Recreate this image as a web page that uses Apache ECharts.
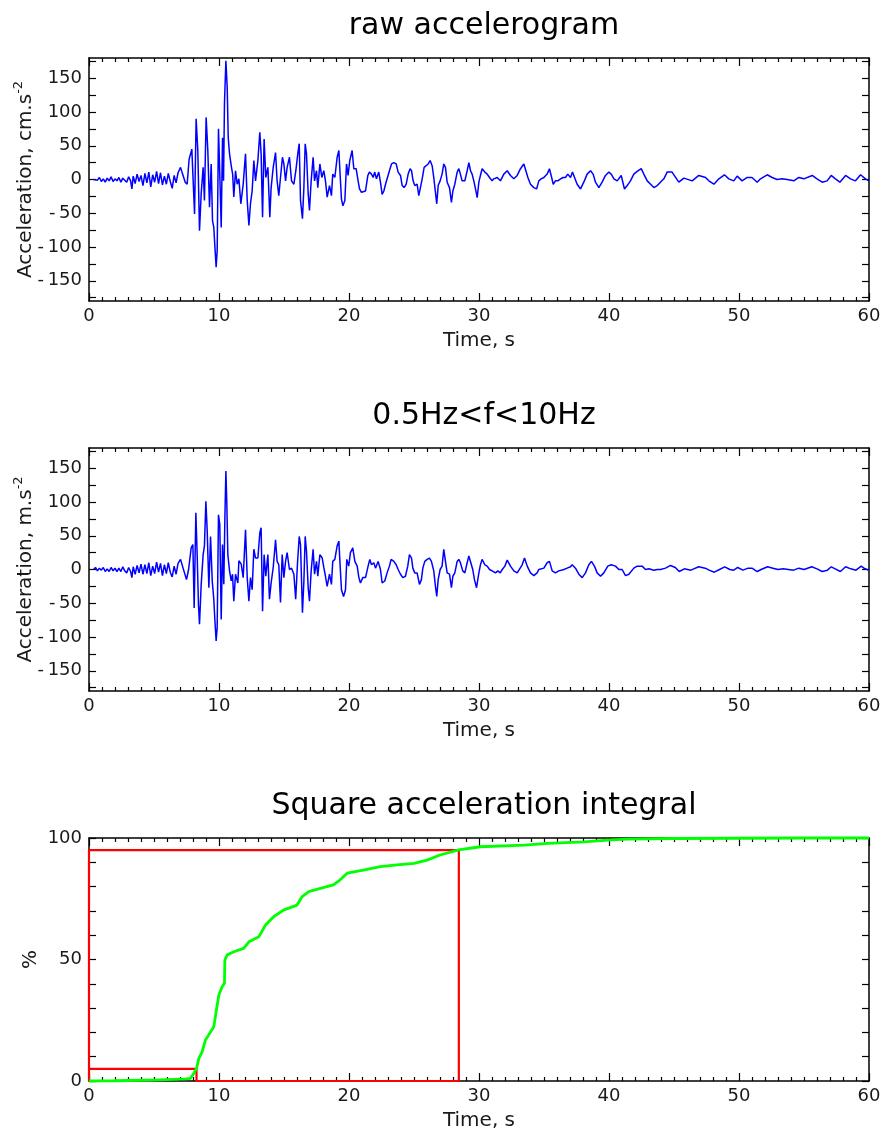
<!DOCTYPE html>
<html>
<head>
<meta charset="utf-8">
<script src="https://cdn.jsdelivr.net/npm/echarts@6/dist/echarts.min.js"></script>
<style>
html,body{margin:0;padding:0;background:#fff;}
#chart{width:885px;height:1135px;}
</style>
</head>
<body>
<div id="chart"></div>
<script>
// ---------- DATA ----------
const titles = ['raw accelerogram', '0.5Hz<f<10Hz', 'Square acceleration integral'];
const xTicksMajor = [0, 10, 20, 30, 40, 50, 60];
const accTickValues = [-175,-150,-125,-100,-75,-50,-25,0,25,50,75,100,125,150,175];
const accLabelValues = [-150,-100,-50,0,50,100,150];
const pctTickValues = [0,10,20,30,40,50,60,70,80,90,100];
const pctLabelValues = [0,50,100];

const earlyT = [0.35,0.5,0.65,0.8,0.95,1.1,1.25,1.4,1.55,1.7,1.85,2.0,2.15,2.3,2.45,2.6,2.75,2.9,3.05,3.2,3.3,3.4,3.55,3.7,3.85,4.0,4.15,4.3,4.45,4.6,4.75,4.9,5.05,5.2,5.35,5.5,5.65,5.8,5.95,6.1,6.25,6.4,6.55,6.7,6.85];

// raw accelerogram (cm/s^2)
const rawT = earlyT.concat([
7.04,7.2,7.4,7.55,7.7,7.91,8.12,8.24,8.37,8.5,8.63,8.78,8.88,9.01,9.14,9.27,9.4,9.5,9.6,9.68,9.78,9.86,9.96,10.06,10.17,10.27,10.35,10.42,10.53,10.63,10.71,10.81,10.96,11.05,11.14,11.27,11.4,11.53,11.68,11.86,12.04,12.17,12.3,12.42,12.55,12.68,12.81,12.99,13.14,13.24,13.35,13.47,13.6,13.76,13.91,14.01,14.17,14.35,14.47,14.6,14.73,14.88,14.99,15.12,15.24,15.42,15.58,15.76,15.91,16.06,16.17,16.27,16.42,16.53,16.63,16.73,16.86,16.96,17.09,17.24,17.35,17.5,17.6,17.76,17.91,18.06,18.19,
18.32,18.5,18.65,18.75,18.91,19.09,19.22,19.32,19.42,19.53,19.68,19.81,19.93,20.06,20.24,20.37,20.55,20.7,20.81,20.96,21.11,21.27,21.45,21.57,21.73,21.86,21.98,22.11,22.29,22.42,22.55,22.68,22.81,22.96,23.11,23.27,23.45,23.63,23.78,23.96,24.09,24.24,24.4,24.55,24.7,24.81,24.93,25.06,25.24,25.37,25.5,25.63,25.78,25.93,26.09,26.24,26.4,26.52,26.65,26.75,26.86,27.01,27.16,27.29,27.42,27.55,27.73,27.88,27.99,28.14,28.32,28.45,28.57,28.7,28.91,29.09,29.22,29.35,29.47,29.6,29.73,29.86,29.99,30.11,30.24,30.45,30.63,30.81,31.01,
31.14,31.4,31.65,31.91,32.17,32.42,32.68,32.94,33.19,33.45,33.58,33.76,33.96,34.22,34.43,34.6,34.78,34.99,35.24,35.42,35.55,35.71,35.88,36.06,36.27,36.47,36.65,36.83,37.04,37.19,37.35,37.55,37.81,38.06,38.32,38.58,38.78,38.96,39.22,39.47,39.73,39.99,40.17,40.38,40.63,40.94,41.19,41.4,41.65,41.91,42.17,42.48,42.68,42.94,43.2,43.45,43.71,43.96,44.22,44.47,
44.6,44.85,45.37,45.76,46.4,46.91,47.43,47.68,48.07,48.45,48.88,49.22,49.6,49.86,50.24,50.63,51.0,51.4,51.65,52.17,52.55,52.93,53.32,53.7,54.22,54.6,54.99,55.63,56.0,56.4,56.78,57.09,57.42,57.76,58.2,58.58,58.96,59.35,59.73,60.0]);
const rawA = [0,2,-1,3,-3,1,-4,2,-2,4,-3,1,-2,3,-4,2,-1,-4,4,-2,-14,5,-6,8,-3,6,-9,9,-5,11,-11,7,-4,12,-6,10,-8,5,-7,9,-3,-13,6,-5,10,
18,8,-4,-7,30,45,-51,90,43,-76,-21,18,-31,92,43,-41,23,-61,-71,-98,-130,-106,75,8,-71,62,-2,112,176,137,62,38,18,8,-26,13,-7,1,-36,-7,38,-31,-68,-36,-17,28,-2,28,70,38,-56,60,3,18,-56,-12,18,40,-2,-24,3,33,23,-2,18,33,-2,-7,13,38,53,-31,-58,-12,53,38,-21,-46,-2,33,-2,13,-12,23,3,13,-2,
-26,-9,-24,8,3,33,43,6,-29,-39,-31,23,6,28,43,16,16,-2,-14,-19,-19,-17,6,11,8,3,11,1,11,-4,-22,-17,-7,-7,13,23,25,23,11,6,-9,-12,-7,8,16,13,-2,-9,-7,-24,-22,1,18,20,23,28,20,3,-19,-36,-9,-2,8,23,18,-4,-12,-34,-17,-7,11,16,8,-2,-2,13,25,13,8,-2,-14,-27,-4,6,16,11,8,3,-2,
1,3,-2,8,13,6,1,6,16,23,21,3,-7,-12,-14,-2,1,3,8,16,6,-7,-2,-2,1,3,3,8,3,11,3,-7,-14,-4,8,13,8,-4,-12,-4,6,11,8,1,-2,6,-14,-9,-2,8,12,16,8,-2,-7,-12,-9,-4,1,11,
12,11,-4,2,-2,6,3,-2,-7,1,7,1,-2,5,-2,3,3,-4,1,7,3,0,1,0,-2,3,1,6,1,-4,-2,6,1,-4,6,1,-2,7,1,-2];

// band-pass filtered accelerogram
const filtT = earlyT.concat([
7.04,7.3,7.5,7.66,7.86,7.99,8.09,8.22,8.32,8.42,8.5,8.63,8.78,8.88,8.99,9.09,9.22,9.35,9.48,9.6,9.68,9.78,9.86,9.96,10.06,10.17,10.27,10.37,10.45,10.53,10.6,10.68,10.81,10.94,11.04,11.14,11.27,11.45,11.53,11.71,11.86,12.04,12.17,12.3,12.42,12.55,12.68,12.81,12.99,13.14,13.24,13.35,13.47,13.6,13.76,13.88,14.01,14.17,14.35,14.47,14.6,14.73,14.86,14.99,15.12,15.24,15.42,15.58,15.76,15.9,16.04,16.17,16.27,16.42,16.53,16.63,16.73,16.86,16.96,17.09,17.24,17.35,17.5,17.6,17.76,17.94,18.06,18.19,
18.32,18.5,18.65,18.75,18.91,19.09,19.22,19.32,19.42,19.58,19.73,19.83,19.98,20.11,20.29,20.45,20.63,20.76,20.88,21.06,21.27,21.47,21.6,21.73,21.91,22.04,22.24,22.42,22.55,22.75,22.93,23.11,23.24,23.45,23.63,23.78,23.96,24.14,24.34,24.52,24.65,24.81,24.91,25.06,25.24,25.42,25.57,25.68,25.83,26.01,26.19,26.34,26.52,26.65,26.75,26.86,27.01,27.16,27.29,27.42,27.55,27.73,27.88,27.99,28.14,28.32,28.45,28.57,28.75,28.91,29.09,29.22,29.37,29.52,29.65,29.81,29.99,30.11,30.24,30.45,30.63,30.81,31.01,31.27,31.45,31.63,31.79,31.99,
32.17,32.42,32.68,32.94,33.32,33.5,33.71,33.96,34.22,34.47,34.6,34.99,35.24,35.42,35.63,35.88,36.14,36.53,36.78,37.04,37.17,37.42,37.68,37.94,38.19,38.45,38.65,38.88,39.09,39.35,39.6,39.91,40.17,40.5,40.76,41.01,41.27,41.53,41.91,42.17,42.55,42.81,43.07,43.45,43.71,43.96,44.35,44.73,
45.1,45.4,45.8,46.3,46.9,47.4,47.7,48.1,48.5,48.9,49.3,49.6,49.9,50.3,50.7,51.0,51.4,51.7,52.2,52.6,53.0,53.4,53.8,54.2,54.6,55.0,55.6,56.0,56.4,56.8,57.1,57.4,57.8,58.2,58.6,59.0,59.4,59.7,60.0]);
const filtA = [0,3,-2,2,-1,3,-3,1,-3,3,-2,2,-3,2,-3,4,-2,-5,3,-3,-12,4,-7,6,-5,8,-7,7,-6,10,-9,5,-6,11,-4,9,-9,7,-6,10,-4,-11,5,-7,9,
15,-2,-15,0,32,37,-57,84,22,-52,-81,-22,22,35,101,59,-27,49,-17,-44,-74,-106,-86,81,67,-74,37,-22,74,146,99,22,-2,-17,-7,-47,-7,-20,13,8,-12,59,-12,-47,-12,-30,30,17,17,54,62,-62,22,-10,22,-44,-20,3,44,12,7,-49,22,-12,12,25,0,2,-7,-44,10,49,37,-64,-17,49,27,-27,-47,-2,30,-7,12,-10,22,17,3,-10,
-25,-7,-22,12,15,35,42,5,-30,-40,-30,15,5,25,32,12,5,-12,-20,-12,-12,5,15,7,10,2,12,0,-20,-17,-5,5,15,12,7,0,-7,-12,-10,5,22,17,2,-5,-5,-22,-15,2,12,15,17,12,-2,-25,-40,-15,0,5,30,12,-5,-7,-27,-10,-5,12,15,10,-2,-5,10,20,10,0,-15,-27,-5,7,15,7,5,0,-2,-5,-2,-5,0,5,
14,5,-2,-5,7,17,5,-5,-9,-5,0,2,10,12,-2,-5,-2,0,2,4,7,2,-7,-12,-5,7,12,5,-5,-10,-5,5,7,5,0,0,-9,-7,2,5,5,0,1,-1,0,0,2,6,
3,-3,1,-1,4,2,-1,-4,0,4,0,-1,3,-1,2,2,-3,0,4,2,0,1,0,-1,2,0,4,1,-3,-1,4,1,-3,4,1,-1,5,1,-1];

// cumulative square acceleration integral (%)
const cumT = [0,1,2,3,4,5,6,7,7.5,7.8,8.07,8.27,8.45,8.7,8.96,9.2,9.6,9.8,9.99,10.24,10.42,10.45,10.63,11.14,11.9,12.3,13.07,13.58,14.2,14.99,16.0,16.4,16.9,17.8,18.8,19.3,19.86,21.1,22.4,23.7,25.0,26.0,27.0,28.45,30.1,33.5,35.3,38.1,39.9,41.4,45,50,55,60];
const cumP = [0,0.05,0.1,0.2,0.3,0.4,0.6,0.8,0.9,1.1,3.2,5.2,9.3,12,16.9,18.9,22.3,29.2,35.4,38.8,40.2,49.8,51.9,53.2,54.6,57.3,59.4,64.2,67.6,70.4,72.4,75.9,77.9,79.3,80.7,82.7,85.5,86.8,88.2,88.9,89.6,90.9,93.0,95.1,96.4,97.1,97.8,98.4,99.1,99.5,99.8,99.9,100,100];

// significant duration bounds
const t5 = 8.27, t95 = 28.45, p5 = 5, p95 = 95;

// ---------- CHART ----------
const FONT = 'DejaVu Sans';
const TXT = '#1a1a1a';
const grids = [
  {left: 89, width: 780, top: 58, height: 243, containLabel: false, outerBoundsMode: 'none'},
  {left: 89, width: 780, top: 448, height: 243, containLabel: false, outerBoundsMode: 'none'},
  {left: 89, width: 780, top: 838, height: 243, containLabel: false, outerBoundsMode: 'none'}
];
const axisLine = {show: true, onZero: false, lineStyle: {color: '#000', width: 1.5}};
function xAx(gi, pos) {
  const bottom = pos === 'bottom';
  return {
    gridIndex: gi, type: 'value', position: pos, min: 0, max: 60, interval: 10,
    axisLine: axisLine,
    axisTick: {show: true, inside: true, length: 8, lineStyle: {color: '#000', width: 1.2}},
    minorTick: {show: true, splitNumber: 10, length: 4, lineStyle: {color: '#000', width: 1.2}},
    splitLine: {show: false}, minorSplitLine: {show: false},
    axisLabel: {show: bottom, fontFamily: FONT, fontSize: 18, color: TXT, margin: 6,
      customValues: xTicksMajor},
    name: bottom ? 'Time, s' : '', nameLocation: 'middle', nameGap: 30, nameMoveOverlap: false,
    nameTextStyle: {fontFamily: FONT, fontSize: 20, color: TXT}
  };
}
function yAx(gi, pos, kind, name) {
  const left = pos === 'left';
  const acc = kind === 'acc';
  const ax = {
    gridIndex: gi, type: 'value', position: pos,
    min: acc ? -180 : 0, max: acc ? 180 : 100,
    axisLine: axisLine,
    axisTick: {show: true, inside: true, length: 7, lineStyle: {color: '#000', width: 1.2},
      customValues: acc ? accTickValues : pctTickValues},
    splitLine: {show: false},
    axisLabel: {show: left, fontFamily: FONT, fontSize: 18, color: TXT, margin: 7,
      customValues: acc ? accLabelValues : pctLabelValues,
      formatter: v => v < 0 ? '-\u2009' + (-v) : String(v)},
    nameLocation: 'middle', nameRotate: 90, nameMoveOverlap: false
  };
  if (left) {
    if (acc) {
      ax.name = '{a|' + name + '}{b|-2}';
      ax.nameGap = 53;
      ax.nameTextStyle = {fontFamily: FONT, color: TXT, rich: {
        a: {fontFamily: FONT, fontSize: 20, color: TXT, lineHeight: 24, verticalAlign: 'bottom'},
        b: {fontFamily: FONT, fontSize: 13, color: TXT, lineHeight: 24, verticalAlign: 'top'}
      }};
    } else {
      ax.name = name;
      ax.nameGap = 48;
      ax.nameTextStyle = {fontFamily: FONT, fontSize: 20, color: TXT};
    }
  }
  return ax;
}

const zip = (a, b) => a.map((t, i) => [t, b[i]]);
const boxData = [[0, p5], [t5, p5], [t5, 0], [t95, 0], [t95, p95], [0, p95], [0, 0]];

const option = {
  animation: false,
  backgroundColor: '#fff',
  title: titles.map((t, i) => ({
    text: t, left: 479, top: 6 + i * 390, textAlign: 'center',
    textStyle: {fontFamily: FONT, fontSize: 30, fontWeight: 'normal', color: '#000'}
  })),
  grid: grids,
  xAxis: [xAx(0,'bottom'), xAx(0,'top'), xAx(1,'bottom'), xAx(1,'top'), xAx(2,'bottom'), xAx(2,'top')],
  yAxis: [yAx(0,'left','acc','Acceleration, cm.s'), yAx(0,'right','acc'),
          yAx(1,'left','acc','Acceleration, m.s'), yAx(1,'right','acc'),
          yAx(2,'left','pct','%'), yAx(2,'right','pct')],
  series: [
    {type: 'line', xAxisIndex: 0, yAxisIndex: 0, data: zip(rawT, rawA), showSymbol: false, silent: true,
     lineStyle: {color: '#0000ff', width: 1.5}},
    {type: 'line', xAxisIndex: 2, yAxisIndex: 2, data: zip(filtT, filtA), showSymbol: false, silent: true,
     lineStyle: {color: '#0000ff', width: 1.5}},
    {type: 'line', xAxisIndex: 4, yAxisIndex: 4, data: boxData, showSymbol: false, silent: true, clip: false,
     lineStyle: {color: '#ff0000', width: 2.2}},
    {type: 'line', xAxisIndex: 4, yAxisIndex: 4, data: zip(cumT, cumP), showSymbol: false, silent: true, clip: false,
     lineStyle: {color: '#00ff00', width: 2.8}}
  ]
};
const chart = echarts.init(document.getElementById('chart'), null, {renderer: 'canvas'});
chart.setOption(option);
</script>
</body>
</html>
